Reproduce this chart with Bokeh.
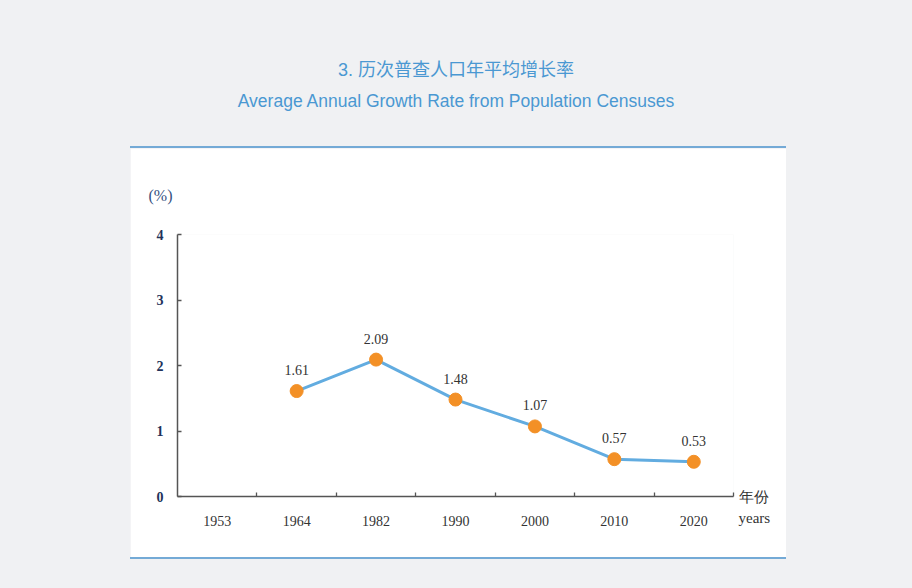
from bokeh.plotting import figure
from bokeh.models import (FixedTicker, Div, Spacer, ColumnDataSource, Range1d, LinearAxis, Title)
from bokeh.layouts import column
from bokeh.embed import file_html
from bokeh.resources import INLINE
from bokeh.core.properties import value

# ---- data ----
years = ["1953", "1964", "1982", "1990", "2000", "2010", "2020"]
growth = [None, 1.61, 2.09, 1.48, 1.07, 0.57, 0.53]
y_ticks = [0, 1, 2, 3, 4]
y_max = 4
title_cn = "3. 历次普查人口年平均增长率"
title_en = "Average Annual Growth Rate from Population Censuses"
unit_label = "(%)"
x_unit_label = " \n年份\nyears"   # blank first line so the block hangs below y = 0

BG = "#f0f1f3"
BLUE_LINE = "#74aad6"
TITLE_COL = "#4a98d2"

idx = [i for i, v in enumerate(growth) if v is not None]
src = ColumnDataSource(dict(
    x=idx,
    y=[growth[i] for i in idx],
    lab=[f"{growth[i]:.2f}" for i in idx],
))

p = figure(width=656, height=409, output_backend="svg", toolbar_location=None,
           x_range=Range1d(-0.5, len(years) - 0.5), y_range=Range1d(0, y_max),
           min_border_left=47, min_border_right=53, min_border_top=86, min_border_bottom=61,
           background_fill_color="white", border_fill_color="white",
           outline_line_color=None)
p.margin = (0, 0, 0, 130)
p.grid.visible = False

# x axis
xa = p.xaxis[0]
xa.ticker = FixedTicker(ticks=list(range(len(years))),
                        minor_ticks=[i + 0.5 for i in range(len(years))])
xa.major_label_overrides = {i: y for i, y in enumerate(years)}
xa.major_tick_in = 0
xa.major_tick_out = 0
xa.minor_tick_in = 4
xa.minor_tick_out = 0
xa.minor_tick_line_color = "#555555"
xa.minor_tick_line_width = 1.3
xa.axis_line_color = "#555555"
xa.axis_line_width = 1.5
xa.major_label_text_font = "Liberation Serif"
xa.major_label_text_font_size = "14px"
xa.major_label_text_color = "#333333"
xa.major_label_standoff = 19

# y axis
ya = p.yaxis[0]
ya.ticker = FixedTicker(ticks=y_ticks, minor_ticks=[])
ya.major_tick_in = 4
ya.major_tick_out = 0
ya.major_tick_line_color = "#555555"
ya.major_tick_line_width = 1.3
ya.axis_line_color = "#555555"
ya.axis_line_width = 1.5
ya.major_label_text_font = "Liberation Serif"
ya.major_label_text_font_size = "14px"
ya.major_label_text_font_style = "bold"
ya.major_label_text_color = "#22325a"
ya.major_label_standoff = 14

# right axis carrying the x unit label (two visible lines)
ra = LinearAxis(ticker=FixedTicker(ticks=[0], minor_ticks=[]),
                major_label_overrides={0: x_unit_label},
                axis_line_color=None, major_tick_line_color=None,
                minor_tick_line_color=None, major_tick_in=0, major_tick_out=0,
                major_label_standoff=5,
                major_label_text_font="Liberation Serif",
                major_label_text_font_size="15px",
                major_label_text_line_height=1.35,
                major_label_text_color="#333333")
p.add_layout(ra, "right")

# "(%)" above the y axis
p.add_layout(Title(text=unit_label, align="left", offset=-29, standoff=62,
                   text_font="Liberation Serif", text_font_size="16px",
                   text_font_style="normal", text_color="#34507f"), "above")

p.line("x", "y", source=src, line_color="#62ace0", line_width=3)
p.scatter("x", "y", source=src, size=13, fill_color="#f39026", line_color="#f39026")
p.text("x", "y", text="lab", source=src, y_offset=-21, text_align="center",
       text_baseline="middle", text_font=value("Liberation Serif"),
       text_font_size="14px", text_color="#333333")

title_html = (
    f'<div style="width:912px;text-align:center;font-family:\'Liberation Sans\',\'Noto Sans CJK SC\',sans-serif;'
    f'color:{TITLE_COL};padding-top:55px;">'
    f'<div style="font-size:18px;line-height:31px;height:31px;">{title_cn}</div>'
    f'<div style="font-size:17.5px;line-height:31px;height:31px;">{title_en}</div>'
    f'</div>'
)
title_div = Div(text=title_html, width=912, height=146, margin=(0, 0, 0, 0))
top_line = Div(text="", width=656, height=2, margin=(0, 0, 0, 130),
               styles={"background-color": BLUE_LINE})
bot_line = Div(text="", width=656, height=2, margin=(0, 0, 0, 130),
               styles={"background-color": BLUE_LINE})
bottom = Spacer(width=912, height=29, margin=(0, 0, 0, 0))

layout = column(title_div, top_line, p, bot_line, bottom,
                width=912, height=588, spacing=0,
                styles={"background-color": BG})

open("out.html", "w").write(file_html(layout, INLINE))
